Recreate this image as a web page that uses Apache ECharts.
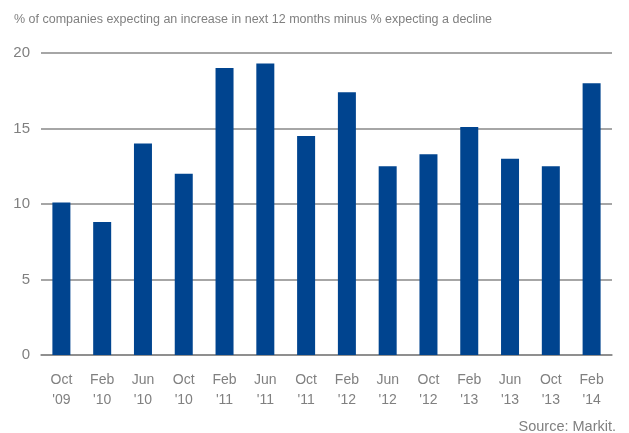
<!DOCTYPE html>
<html>
<head>
<meta charset="utf-8">
<script src="https://cdn.jsdelivr.net/npm/echarts@6/dist/echarts.min.js"></script>
<style>
  html, body { margin: 0; padding: 0; background: #fff; }
  #chart { width: 629px; height: 433px; }
</style>
</head>
<body>
<div id="chart"></div>
<script>
// 类目与数值
const months = ['Oct', 'Feb', 'Jun', 'Oct', 'Feb', 'Jun', 'Oct', 'Feb', 'Jun', 'Oct', 'Feb', 'Jun', 'Oct', 'Feb']
const years = ["'09", "'10", "'10", "'10", "'11", "'11", "'11", "'12", "'12", "'12", "'13", "'13", "'13", "'14"]
const balance = [10.1, 8.8, 14.0, 12.0, 19.0, 19.3, 14.5, 17.4, 12.5, 13.3, 15.1, 13.0, 12.5, 18.0]
const yTicks = [0, 5, 10, 15, 20]

const fontGray = '#808080'
const barColor = '#00448f'
const categories = months.map((m, i) => m + '\n' + years[i])

const myChart = echarts.init(document.getElementById('chart'))
myChart.setOption({
  animation: false,
  textStyle: { fontFamily: 'Liberation Sans, Arial, sans-serif' },
  title: [{
    text: '% of companies expecting an increase in next 12 months minus % expecting a decline',
    left: 9,
    top: 8,
    textStyle: { color: fontGray, fontSize: 12.5, fontWeight: 'normal' }
  }, {
    text: 'Source: Markit.',
    right: 8,
    top: 414,
    textStyle: { color: fontGray, fontSize: 14.5, fontWeight: 'normal' }
  }],
  grid: { left: 41, right: 17, top: 53, bottom: 78 },
  xAxis: {
    type: 'category',
    data: categories,
    axisLine: { lineStyle: { color: '#888', width: 1.5 } },
    axisTick: { length: 5, lineStyle: { color: '#888', width: 1.5 } },
    axisLabel: { color: fontGray, fontSize: 14, lineHeight: 20, margin: 15, interval: 0 }
  },
  yAxis: {
    type: 'value',
    min: yTicks[0],
    max: yTicks[yTicks.length - 1],
    interval: 5,
    axisLine: { show: false },
    axisTick: { show: false },
    axisLabel: { color: fontGray, fontSize: 15, margin: 11 },
    splitLine: { lineStyle: { color: '#888', width: 1.5 } }
  },
  series: [{
    type: 'bar',
    data: balance,
    barWidth: 18,
    itemStyle: { color: barColor }
  }]
})
</script>
</body>
</html>
